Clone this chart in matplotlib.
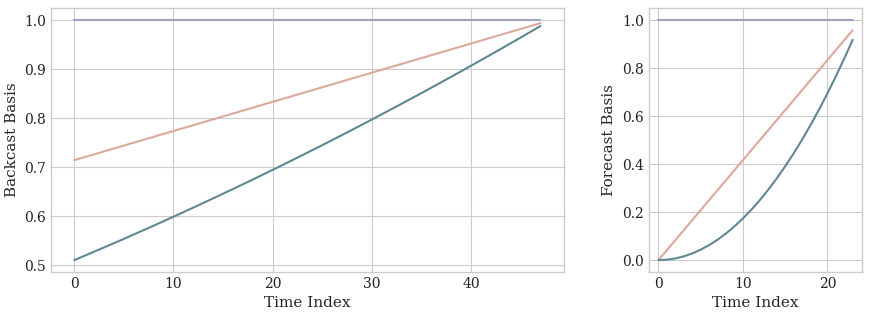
'''
Polynomial trend basis: backcast and forecast
'''

import matplotlib
matplotlib.use("Agg")
import matplotlib.pyplot as plt

backcast_const = [1.0] * 48
backcast_lin = [
    0.7143, 0.7202, 0.7262, 0.7321, 0.7381, 0.7440, 0.7500, 0.7560,
    0.7619, 0.7679, 0.7738, 0.7798, 0.7857, 0.7917, 0.7976, 0.8036,
    0.8095, 0.8155, 0.8214, 0.8274, 0.8333, 0.8393, 0.8452, 0.8512,
    0.8571, 0.8631, 0.8690, 0.8750, 0.8810, 0.8869, 0.8929, 0.8988,
    0.9048, 0.9107, 0.9167, 0.9226, 0.9286, 0.9345, 0.9405, 0.9464,
    0.9524, 0.9583, 0.9643, 0.9702, 0.9762, 0.9821, 0.9881, 0.9940,
]
backcast_quad = [
    0.5102, 0.5187, 0.5274, 0.5360, 0.5448, 0.5535, 0.5625, 0.5715,
    0.5805, 0.5897, 0.5988, 0.6081, 0.6173, 0.6268, 0.6362, 0.6458,
    0.6553, 0.6650, 0.6747, 0.6846, 0.6944, 0.7044, 0.7144, 0.7245,
    0.7347, 0.7449, 0.7552, 0.7656, 0.7761, 0.7866, 0.7972, 0.8079,
    0.8186, 0.8294, 0.8403, 0.8512, 0.8622, 0.8733, 0.8845, 0.8957,
    0.9070, 0.9184, 0.9298, 0.9413, 0.9529, 0.9646, 0.9763, 0.9881,
]

forecast_const = [1.0] * 24
forecast_lin = [
    0.0, 0.0417, 0.0833, 0.125, 0.1667, 0.2083, 0.25, 0.2917,
    0.3333, 0.375, 0.4167, 0.4583, 0.5, 0.5417, 0.5833, 0.625,
    0.6667, 0.7083, 0.75, 0.7917, 0.8333, 0.875, 0.9167, 0.9583,
]
forecast_quad = [
    0.0, 0.0017, 0.0069, 0.0156, 0.0278, 0.0434, 0.0625, 0.0851,
    0.1111, 0.1406, 0.1736, 0.2101, 0.25, 0.2934, 0.3403, 0.3906,
    0.4444, 0.5017, 0.5625, 0.6267, 0.6944, 0.7656, 0.8403, 0.9184,
]

colors = ["#a0a0bf", "#dba99b", "#608893"]


def rysuj(ax, serie, ylabel):
    for s, c in zip(serie, colors):
        ax.plot(range(len(s)), s, color=c, lw=1.5)
    ax.set_xlabel("Time Index", fontsize=11)
    ax.set_ylabel(ylabel, fontsize=11)


def main():
    plt.style.use("seaborn-v0_8-whitegrid")
    plt.rcParams["font.family"] = "DejaVu Serif"
    plt.rcParams["axes.edgecolor"] = "#cccccc"
    plt.rcParams["axes.linewidth"] = 1.0
    plt.rcParams["grid.color"] = "#cccccc"
    plt.rcParams["xtick.color"] = "#222222"
    plt.rcParams["ytick.color"] = "#222222"
    plt.rcParams["xtick.labelsize"] = 10
    plt.rcParams["ytick.labelsize"] = 10

    fig = plt.figure(figsize=(8.72, 3.16), dpi=100)
    ax1 = fig.add_axes([0.0585, 0.139, 0.588, 0.835])
    ax2 = fig.add_axes([0.744, 0.139, 0.245, 0.835])
    for ax in (ax1, ax2):
        for sp in ax.spines.values():
            sp.set_visible(True)

    rysuj(ax1, [backcast_const, backcast_lin, backcast_quad], "Backcast Basis")
    rysuj(ax2, [forecast_const, forecast_lin, forecast_quad], "Forecast Basis")
    ax2.set_xticks([0, 10, 20])

    fig.savefig("out.png", dpi=100)


if __name__ == "__main__":
    main()
